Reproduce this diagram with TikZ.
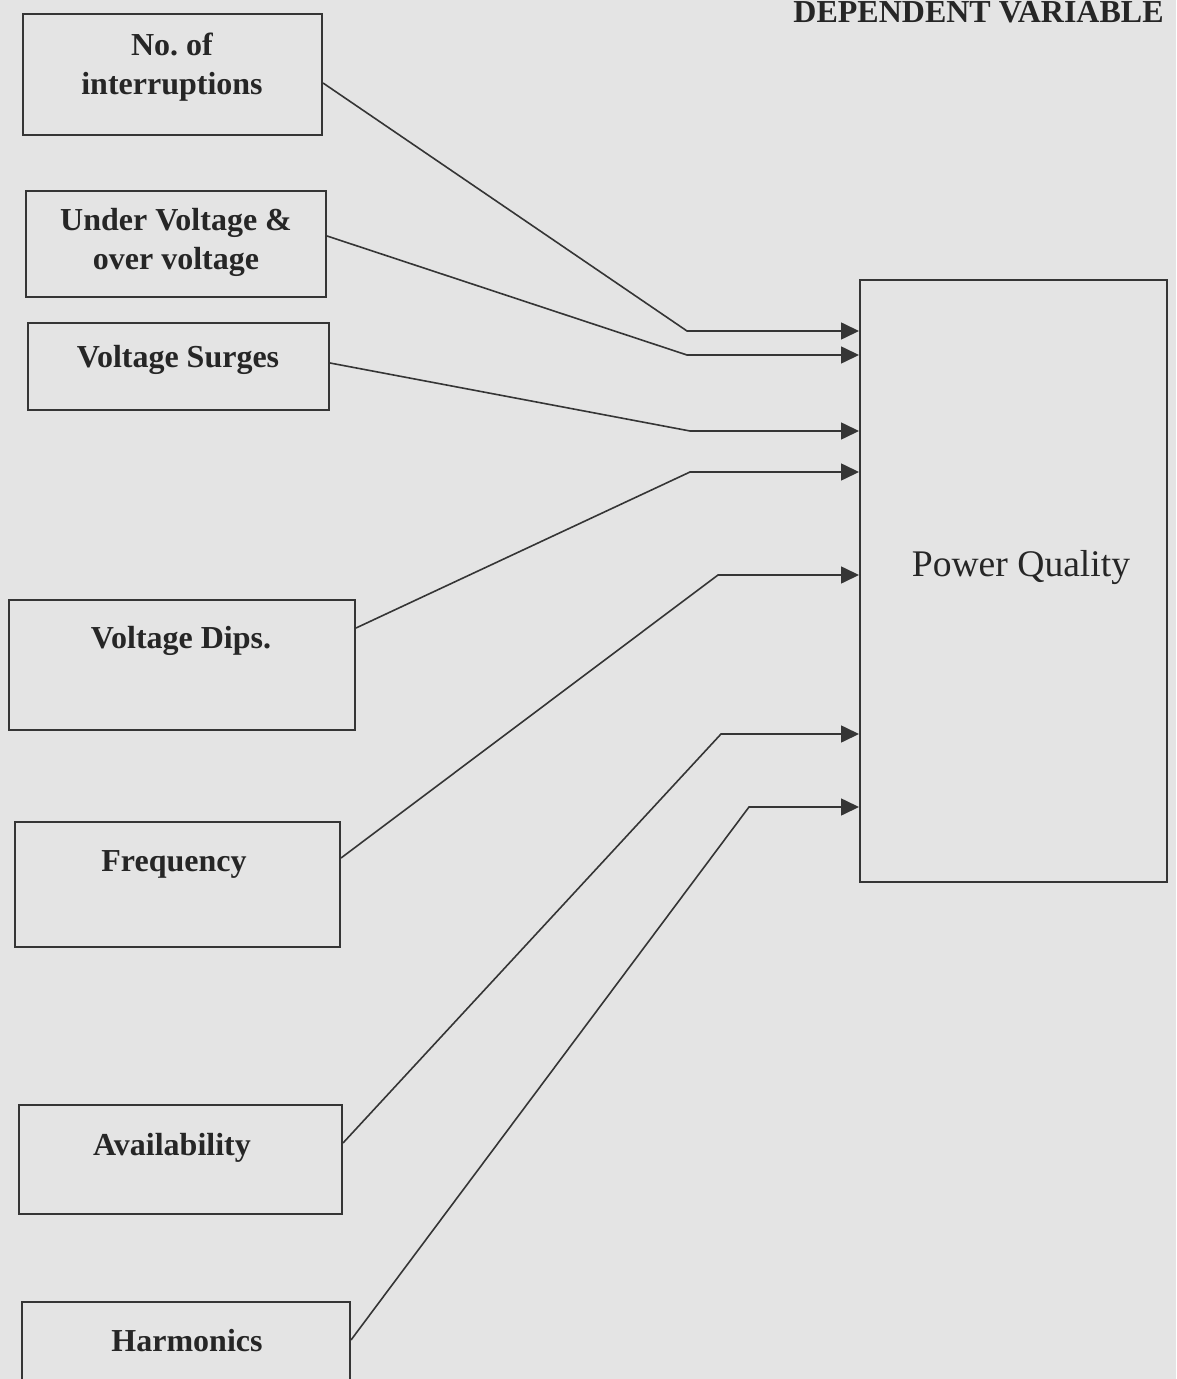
\documentclass[tikz,border=0pt]{standalone}
\usepackage{fontspec}
\setmainfont{Liberation Serif}
\usetikzlibrary{arrows.meta}
\definecolor{bg}{HTML}{E4E4E4}
\definecolor{ink}{HTML}{353535}
\definecolor{txt}{HTML}{262626}
\begin{document}
\begin{tikzpicture}[x=0.5pt,y=-0.5pt,
  box/.style={draw=ink,line width=1pt,inner sep=0pt,rectangle},
  lbl/.style={text=txt,align=center,inner sep=0pt,font=\bfseries\fontsize{16}{19.5}\selectfont},
  conn/.style={draw=ink,line width=0.8pt,-{Triangle[length=9pt,width=8.5pt]}}]
\fill[bg] (0,0) rectangle (1176,1379);
\useasboundingbox (0,0) rectangle (1176,1379);
% title
\node[anchor=base east,inner sep=0pt,text=txt,font=\bfseries\fontsize{16}{19}\selectfont] (title) at (1164,23) {DEPENDENT VARIABLE};
% boxes
\node[box,minimum width=149.5pt,minimum height=60.5pt] (b1) at (172.5,74.5) {};
\node[box,minimum width=150pt,minimum height=53pt] (b2) at (176,244) {};
\node[box,minimum width=150.5pt,minimum height=43.5pt] (b3) at (178.5,366.5) {};
\node[box,minimum width=173pt,minimum height=65pt] (b4) at (182,665) {};
\node[box,minimum width=162.5pt,minimum height=62.5pt] (b5) at (177.5,884.5) {};
\node[box,minimum width=161.5pt,minimum height=54.5pt] (b6) at (180.5,1159.5) {};
\node[box,minimum width=164pt,minimum height=54pt] (b7) at (186,1356) {};
\node[box,minimum width=153.5pt,minimum height=301pt] (pq) at (1013.5,581) {};
% labels
\node[lbl] (t1) at (172,67) {No.\ of\\interruptions};
\node[lbl] (t2) at (176,242) {Under Voltage \&\\over voltage};
\node[lbl] (t3) at (178,360) {Voltage Surges};
\node[lbl] (t4) at (181,641) {Voltage Dips.};
\node[lbl] (t5) at (174,864) {Frequency};
\node[lbl] (t6) at (172,1148) {Availability};
\node[lbl] (t7) at (187,1341) {Harmonics};
\node[inner sep=0pt,text=txt,font=\fontsize{18.8}{22}\selectfont] (tpq) at (1021,568) {Power Quality};
% start heights and bends
\coordinate (s1) at (0,83);
\coordinate (s2) at (0,236);
\coordinate (s3) at (0,363);
\coordinate (s4) at (0,628);
\coordinate (s5) at (0,858);
\coordinate (s6) at (0,1143);
\coordinate (s7) at (0,1340);
\coordinate (k1) at (687,331);
\coordinate (k2) at (687,355);
\coordinate (k3) at (690,431);
\coordinate (k4) at (690,472);
\coordinate (k5) at (718,575);
\coordinate (k6) at (721,734);
\coordinate (k7) at (749,807);
% connectors
\draw[conn] (b1.east |- s1) -- (k1) -- (pq.west |- k1);
\draw[conn] (b2.east |- s2) -- (k2) -- (pq.west |- k2);
\draw[conn] (b3.east |- s3) -- (k3) -- (pq.west |- k3);
\draw[conn] (b4.east |- s4) -- (k4) -- (pq.west |- k4);
\draw[conn] (b5.east |- s5) -- (k5) -- (pq.west |- k5);
\draw[conn] (b6.east |- s6) -- (k6) -- (pq.west |- k6);
\draw[conn] (b7.east |- s7) -- (k7) -- (pq.west |- k7);
\end{tikzpicture}
\end{document}
